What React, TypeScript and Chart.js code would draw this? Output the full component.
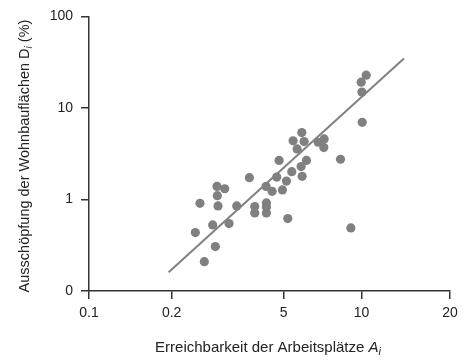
import React, { useEffect, useRef } from "react";
import { Chart, registerables } from "chart.js";

Chart.register(...registerables);

const xTickPos = [0, 22.9, 53.9, 75.5, 100];
const xTickLabels = ["0.1", "0.2", "5", "10", "20"];
const yTickValues = [0.1, 1, 10, 100];
const yTickLabels = ["0", "1", "10", "100"];

const xValues = [
  29.45, 30.74, 31.95, 34.26, 35.0, 35.46, 35.55, 35.74, 37.59, 38.79, 40.92,
  44.43, 45.91, 45.91, 49.05, 49.14, 49.14, 49.14, 50.72, 52.01, 52.66, 53.58,
  54.69, 55.06, 56.17, 56.54, 57.65, 58.76, 58.95, 59.04, 59.59, 60.24, 63.48,
  65.14, 65.05, 69.67, 72.54, 75.4, 75.59, 76.79, 75.68,
];
const yValues = [
  0.435, 0.908, 0.209, 0.527, 0.306, 1.39, 1.1, 0.849, 1.31, 0.545, 0.849,
  1.73, 0.836, 0.713, 1.39, 0.916, 0.828, 0.713, 1.226, 1.756, 2.67, 1.27,
  1.59, 0.618, 2.01, 4.37, 3.57, 2.29, 5.38, 1.79, 4.29, 2.67, 4.22,
  4.59, 3.69, 2.75, 0.489, 19.1, 14.9, 22.8, 6.97,
];
const fitX = [22.05, 87.24];
const fitY = [0.16, 34.6];

const FONT = "'Liberation Sans', Arial, sans-serif";
const TEXT = "#222";
const AXIS = "#333";

const titlePlugin = {
  id: "titles",
  afterDraw(chart: any) {
    const ctx = chart.ctx;
    ctx.save();
    ctx.fillStyle = TEXT;
    ctx.textBaseline = "middle";
    const drawParts = (
      parts: { t: string; it?: boolean; sub?: boolean }[],
      cx: number,
      cy: number,
      size: number
    ) => {
      const fontFor = (p: any) =>
        `${p.it ? "italic " : ""}${p.sub ? Math.round(size * 0.7) : size}px ${FONT}`;
      let total = 0;
      parts.forEach((p) => {
        ctx.font = fontFor(p);
        total += ctx.measureText(p.t).width;
      });
      let x = cx - total / 2;
      ctx.textAlign = "left";
      parts.forEach((p) => {
        ctx.font = fontFor(p);
        ctx.fillText(p.t, x, cy + (p.sub ? 4 : 0));
        x += ctx.measureText(p.t).width;
      });
    };
    drawParts(
      [{ t: "Erreichbarkeit der Arbeitsplätze " }, { t: "A", it: true }, { t: "i", it: true, sub: true }],
      268,
      348,
      15
    );
    ctx.translate(25, 156);
    ctx.rotate(-Math.PI / 2);
    drawParts(
      [{ t: "Ausschöpfung der Wohnbauflächen D" }, { t: "i", it: true, sub: true }, { t: " (%)" }],
      0,
      0,
      14.5
    );
    ctx.restore();
  },
};

export default function App() {
  const ref = useRef<HTMLCanvasElement>(null);
  useEffect(() => {
    document.body.style.margin = "0";
    const chart = new Chart(ref.current as HTMLCanvasElement, {
      type: "scatter",
      data: {
        datasets: [
          {
            data: xValues.map((x, i) => ({ x, y: yValues[i] })),
            backgroundColor: "#808080",
            borderWidth: 0,
            pointRadius: 4.6,
            pointHoverRadius: 4.6,
          },
          {
            data: fitX.map((x, i) => ({ x, y: fitY[i] })),
            showLine: true,
            borderColor: "#808080",
            borderWidth: 2,
            pointRadius: 0,
          },
        ],
      },
      options: {
        animation: false,
        responsive: false,
        devicePixelRatio: 1,
        layout: { padding: { top: 15, right: 15, left: 0, bottom: 0 } },
        plugins: { legend: { display: false }, tooltip: { enabled: false } },
        scales: {
          x: {
            type: "linear",
            min: 0,
            max: 100,
            afterBuildTicks: (s: any) => {
              s.ticks = xTickPos.map((v) => ({ value: v }));
            },
            afterFit: (s: any) => {
              s.height = 71;
            },
            ticks: {
              callback: (_v: any, i: number) => xTickLabels[i],
              font: { family: FONT, size: 14 },
              color: TEXT,
              padding: 6,
              maxRotation: 0,
            },
            grid: { drawOnChartArea: false, tickLength: 8, color: AXIS, lineWidth: 1.5 },
            border: { color: AXIS, width: 1.5 },
          },
          y: {
            type: "logarithmic",
            min: 0.1,
            max: 100,
            afterBuildTicks: (s: any) => {
              s.ticks = yTickValues.map((v) => ({ value: v }));
            },
            afterFit: (s: any) => {
              s.width = 89;
            },
            ticks: {
              callback: (_v: any, i: number) => yTickLabels[i],
              font: { family: FONT, size: 14 },
              color: TEXT,
              padding: 8,
            },
            grid: { drawOnChartArea: false, tickLength: 8, color: AXIS, lineWidth: 1.5 },
            border: { color: AXIS, width: 1.5 },
          },
        },
      },
      plugins: [titlePlugin],
    } as any);
    return () => chart.destroy();
  }, []);
  return (
    <div style={{ width: 465, height: 362 }}>
      <canvas ref={ref} width={465} height={362} />
    </div>
  );
}
